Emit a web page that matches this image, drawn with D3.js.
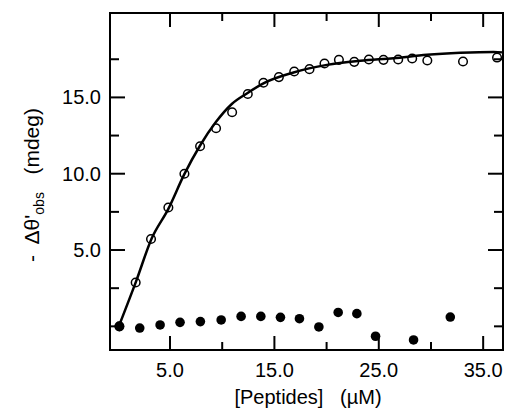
<!DOCTYPE html>
<meta charset="utf-8">
<style>
body { margin: 0; background: #fff; }
svg text { font-family: "Liberation Sans", Arial, sans-serif; fill: #000; }
.frame { fill: none; stroke: #000; stroke-width: 2; }
.fit { fill: none; stroke: #000; stroke-width: 2.5; }
.open { fill: none; stroke: #000; stroke-width: 1.5; }
.filled { fill: #000; }
.tk { stroke: #000; stroke-width: 2; }
</style>
<body>
<div id="chart"></div>
<script src="https://d3js.org/d3.v7.min.js"></script>
<script>
// titration: open circles = peptide, filled = control
var openX = [0.15, 1.71, 3.18, 4.84, 6.38, 7.88, 9.41, 10.95, 12.45, 13.95, 15.43, 16.9, 18.36, 19.8, 21.18, 22.65, 24.05, 25.45, 26.86, 28.2, 29.65, 33.07, 36.33];
var openY = [0.0, 2.87, 5.72, 7.79, 10.0, 11.8, 12.98, 14.03, 15.22, 15.96, 16.33, 16.7, 16.85, 17.22, 17.46, 17.33, 17.48, 17.46, 17.48, 17.55, 17.42, 17.35, 17.61];

var filledX = [0.15, 2.1, 4.05, 5.96, 7.91, 9.9, 11.81, 13.7, 15.58, 17.4, 19.26, 21.11, 22.9, 24.69, 28.33, 31.85];
var filledY = [0.0, -0.11, 0.09, 0.26, 0.31, 0.42, 0.65, 0.65, 0.59, 0.5, -0.04, 0.91, 0.83, -0.65, -0.89, 0.61];

// fitted curve
var fitX = [0.15, 1.74, 3.25, 4.84, 6.35, 7.88, 9.41, 10.92, 12.36, 13.95, 16.83, 20.03, 23.22, 26.41, 29.6, 32.8, 36.0, 36.8];
var fitY = [0.1, 2.93, 5.77, 7.7, 9.94, 11.85, 13.4, 14.57, 15.26, 15.92, 16.63, 17.13, 17.4, 17.57, 17.79, 17.92, 17.98, 17.95];

var xMajor = [5, 15, 25, 35];
var xMinor = [10, 20, 30];
var yMajor = [5, 10, 15];
var yMinor = [0, 2.5, 7.5, 12.5, 17.5];

var W = 505, H = 413;
var pLeft = 110, pRight = 503, pTop = 13, pBottom = 350;

var x = d3.scaleLinear().domain([-0.75, 36.9]).range([pLeft, pRight]);
var y = d3.scaleLinear().domain([-1.55, 20.53]).range([pBottom, pTop]);

var svg = d3.select("#chart").append("svg")
    .attr("width", W)
    .attr("height", H);

function fmt(d) { return d.toFixed(1); }

svg.append("rect").attr("class", "frame")
    .attr("x", pLeft).attr("y", pTop)
    .attr("width", pRight - pLeft).attr("height", pBottom - pTop);

// inward ticks on all four sides
var ticks = svg.append("g");
function xTicks(vals, len) {
  vals.forEach(function(v) {
    ticks.append("line").attr("class", "tk")
      .attr("x1", x(v)).attr("x2", x(v)).attr("y1", pBottom).attr("y2", pBottom - len);
    ticks.append("line").attr("class", "tk")
      .attr("x1", x(v)).attr("x2", x(v)).attr("y1", pTop).attr("y2", pTop + len);
  });
}
function yTicks(vals, len) {
  vals.forEach(function(v) {
    ticks.append("line").attr("class", "tk")
      .attr("x1", pLeft).attr("x2", pLeft + len).attr("y1", y(v)).attr("y2", y(v));
    ticks.append("line").attr("class", "tk")
      .attr("x1", pRight).attr("x2", pRight - len).attr("y1", y(v)).attr("y2", y(v));
  });
}
xTicks(xMajor, 14);
xTicks(xMinor, 8);
yTicks(yMajor, 15);
yTicks(yMinor, 9);

// tick labels
svg.selectAll(".xl").data(xMajor).enter().append("text")
    .attr("class", "xl")
    .attr("x", d => x(d)).attr("y", 377)
    .attr("text-anchor", "middle")
    .attr("font-size", 20)
    .text(fmt);
svg.selectAll(".yl").data(yMajor).enter().append("text")
    .attr("class", "yl")
    .attr("x", 101).attr("y", d => y(d) + 7)
    .attr("text-anchor", "end")
    .attr("font-size", 20)
    .text(fmt);

// points
svg.selectAll(".open").data(openX).enter().append("circle")
    .attr("class", "open")
    .attr("cx", d => x(d))
    .attr("cy", (d, i) => y(openY[i]))
    .attr("r", 4.3);

svg.selectAll(".filled").data(filledX).enter().append("circle")
    .attr("class", "filled")
    .attr("cx", d => x(d))
    .attr("cy", (d, i) => y(filledY[i]))
    .attr("r", 4.8);

var line = d3.line()
    .x(d => x(d))
    .y((d, i) => y(fitY[i]))
    .curve(d3.curveMonotoneX);

svg.append("path").datum(fitX).attr("class", "fit").attr("d", line);

// axis titles
svg.append("text")
    .attr("x", 308).attr("y", 404)
    .attr("text-anchor", "middle")
    .attr("font-size", 20)
    .style("white-space", "pre")
    .text("[Peptides]   (\u00b5M)");

var yt = svg.append("text")
    .attr("transform", "translate(39,185) rotate(-90)")
    .attr("text-anchor", "middle")
    .attr("font-size", 21)
    .style("white-space", "pre");
yt.append("tspan").text("-  \u0394\u03b8'");
yt.append("tspan").attr("font-size", 14).attr("dy", 5).text("obs");
yt.append("tspan").attr("dy", -5).text("   (mdeg)");
</script>
</body>
